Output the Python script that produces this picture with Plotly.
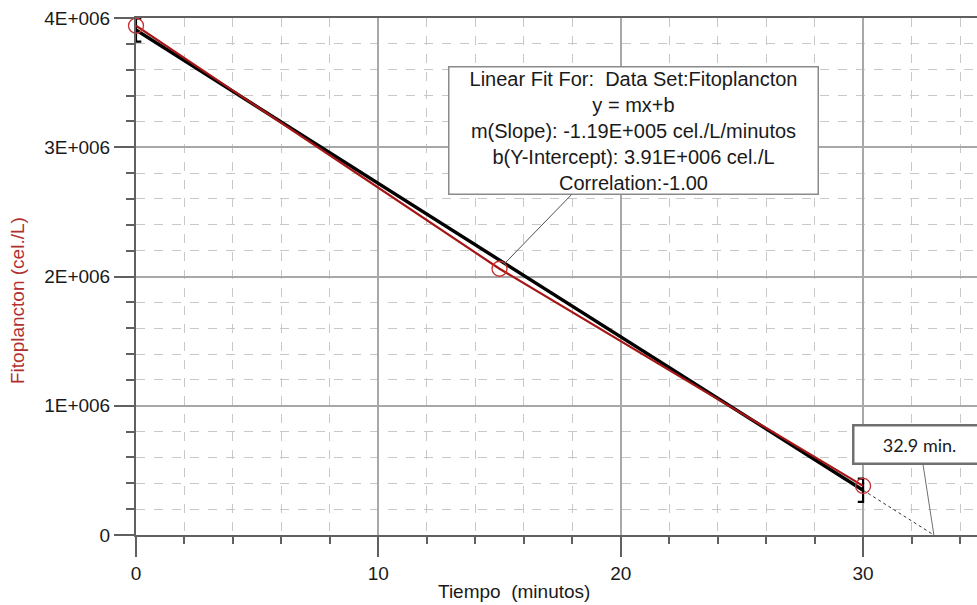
import numpy as np
import plotly.graph_objects as go

# ---- data ----
tiempo = [0, 15, 30]                       # minutos
fitoplancton = [3.94e6, 2.06e6, 0.38e6]    # cel./L
x_ticks = [0, 10, 20, 30]
y_ticks = [0, 1e6, 2e6, 3e6, 4e6]
y_ticktext = ["0", "1E+006", "2E+006", "3E+006", "4E+006"]

# linear fit from data
m, b = np.polyfit(tiempo, fitoplancton, 1)
r = np.corrcoef(tiempo, fitoplancton)[0, 1]
x_fit = [min(tiempo), max(tiempo)]
y_fit = [m * v + b for v in x_fit]
x_zero = -b / m

FONT = "Liberation Sans, Arial, sans-serif"
RED_LINE = "#a51515"
RED_MARK = "#c83030"
AXIS = "#606060"

fig = go.Figure()

# dotted extrapolation to zero
fig.add_trace(go.Scatter(x=[x_fit[1], x_zero], y=[y_fit[1], 0], mode="lines",
                         line=dict(color="#333333", width=1, dash="dot"),
                         hoverinfo="skip", showlegend=False, cliponaxis=False))
# fit line
fig.add_trace(go.Scatter(x=x_fit, y=y_fit, mode="lines",
                         line=dict(color="black", width=3.4),
                         showlegend=False, cliponaxis=False))
# brackets marking fit range
bh = 0.09e6
bw = 0.22
bx = [x_fit[0] + bw, x_fit[0], x_fit[0], x_fit[0] + bw, None,
      x_fit[1] - bw, x_fit[1], x_fit[1], x_fit[1] - bw]
by = [y_fit[0] + bh, y_fit[0] + bh, y_fit[0] - bh, y_fit[0] - bh, None,
      y_fit[1] + bh, y_fit[1] + bh, y_fit[1] - bh, y_fit[1] - bh]
fig.add_trace(go.Scatter(x=bx, y=by, mode="lines",
                         line=dict(color="black", width=2.2),
                         showlegend=False, cliponaxis=False, hoverinfo="skip"))
# data line + markers
fig.add_trace(go.Scatter(x=tiempo, y=fitoplancton, mode="lines",
                         line=dict(color=RED_LINE, width=2.2),
                         showlegend=False, cliponaxis=False))
fig.add_trace(go.Scatter(x=tiempo, y=fitoplancton, mode="markers",
                         marker=dict(symbol="circle-open", size=15, color=RED_MARK,
                                     line=dict(width=1.3, color=RED_MARK)),
                         showlegend=False, cliponaxis=False))

fit_text = ("Linear Fit For:  Data Set:Fitoplancton<br>"
            "y = mx+b<br>"
            f"m(Slope): {m:.2E} cel./L/minutos<br>"
            f"b(Y-Intercept): {b:.2E} cel./L<br>"
            f"Correlation:{r:.2f}")
fit_text = fit_text.replace("E+0", "E+00").replace("E-0", "E-00")

annotations = [
    dict(x=tiempo[1], y=fitoplancton[1], xref="x", yref="y", text=fit_text,
         showarrow=True, arrowhead=0, arrowwidth=1, arrowcolor="#505050",
         ax=134, ay=-138, standoff=7,
         font=dict(family=FONT, size=20, color="#1a1a1a"),
         bgcolor="white", bordercolor="#8a8a8a", borderwidth=1.5, borderpad=3,
         width=362, height=120, align="center"),
    dict(x=x_zero, y=0, xref="x", yref="y", text=f"{x_zero:.1f} min.",
         showarrow=True, arrowhead=0, arrowwidth=1, arrowcolor="#707070",
         ax=-14, ay=-91, standoff=0,
         font=dict(family="Lato, Liberation Sans, sans-serif", size=18, color="#1a1a1a"),
         bgcolor="white", bordercolor="#707070", borderwidth=2.5, borderpad=2,
         width=126, height=32, align="center"),
    dict(x=-0.1415, y=0.4545, xref="paper", yref="paper", text="Fitoplancton (cel./L)",
         textangle=-90, showarrow=False, xanchor="center", yanchor="middle",
         font=dict(family=FONT, size=19, color="#b03030")),
    dict(x=0.4495, y=-0.110, xref="paper", yref="paper", text="Tiempo \u00a0(minutos)",
         showarrow=False, xanchor="center", yanchor="middle",
         font=dict(family=FONT, size=19, color="#1a1a1a")),
]

fig.update_layout(
    width=977, height=605,
    margin=dict(l=136, r=0, t=18, b=70),
    paper_bgcolor="white", plot_bgcolor="white",
    annotations=annotations,
    shapes=[dict(type="rect", xref="paper", yref="paper",
                 x0=0.8005, x1=0.8100, y0=0.890, y1=0.905,
                 fillcolor="#c8c8c8", line=dict(color="#333333", width=1.5))],
    xaxis=dict(range=[0, 34.7], tickvals=x_ticks, ticktext=[str(v) for v in x_ticks],
               ticks="outside", ticklen=20, tickwidth=2, tickcolor=AXIS,
               showline=True, linecolor=AXIS, linewidth=2, mirror=True,
               showgrid=True, gridcolor="#a8a8a8", gridwidth=1.5, zeroline=False,
               automargin=False,
               tickfont=dict(family=FONT, size=19, color="#1a1a1a"),
               minor=dict(dtick=2, ticks="outside", ticklen=7, tickwidth=2,
                          tickcolor=AXIS, showgrid=True, gridcolor="#c8c8c8",
                          griddash="dash", gridwidth=1)),
    yaxis=dict(range=[0, 4e6], tickvals=y_ticks, ticktext=y_ticktext,
               ticks="outside", ticklen=20, tickwidth=2, tickcolor=AXIS,
               showline=True, linecolor=AXIS, linewidth=2,
               showgrid=True, gridcolor="#a8a8a8", gridwidth=1.5, zeroline=False,
               automargin=False,
               tickfont=dict(family=FONT, size=19, color="#1a1a1a"),
               minor=dict(dtick=0.2e6, ticks="outside", ticklen=8, tickwidth=2,
                          tickcolor=AXIS, showgrid=True, gridcolor="#c8c8c8",
                          griddash="dash", gridwidth=1)),
)

fig.write_html("out.html", config={"displayModeBar": False},
               post_script="document.body.style.margin='0';document.body.style.overflow='hidden';")
